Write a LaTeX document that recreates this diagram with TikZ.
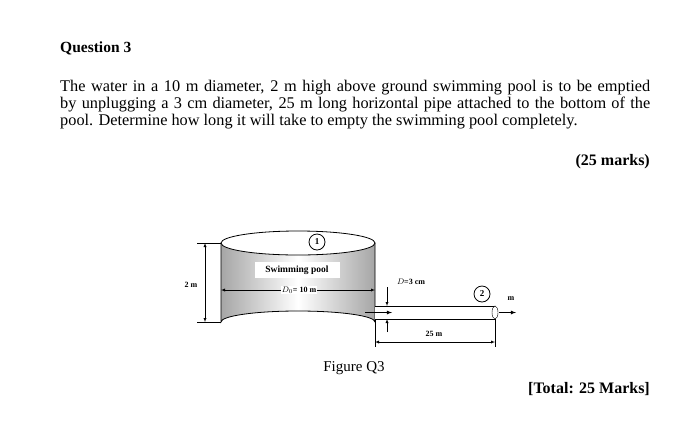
\documentclass[tikz,border=0pt]{standalone}
\usepackage{fontspec}
\setmainfont{Liberation Serif}
\begin{document}
\begin{tikzpicture}[x=1pt,y=-1pt,
  dim/.style={-latex,thin},
  lbl/.style={font=\fontsize{8}{9}\selectfont\bfseries,inner sep=1pt},
  num/.style={circle,draw,thick,minimum size=16pt,inner sep=0pt,font=\fontsize{9}{10}\selectfont\bfseries}]
\useasboundingbox (0,0) rectangle (700,429);
\node[anchor=base west,font=\fontsize{15.5}{17}\selectfont\bfseries,inner sep=0pt] (q) at (60,52) {Question 3};
\node[anchor=north west,text width=590pt,align=justify,inner sep=0pt,font=\fontsize{16.3}{17}\selectfont] (p) at (60,80)
{The water in a 10 m diameter, 2 m high above ground swimming pool is to be emptied by unplugging a 3 cm diameter, 25 m long horizontal pipe attached to the bottom of the\linebreak pool. Determine how long it will take to empty the swimming pool completely.};
\node[anchor=base east,font=\fontsize{16}{17}\selectfont\bfseries,inner sep=0pt] (m) at (650,165) {(25 marks)};
% cylinder
\shade[left color=gray!70,right color=gray!70,middle color=white,draw=black,thick]
  (221,243) -- (221,322) arc[start angle=180,end angle=360,x radius=77,y radius=11] -- (375,243) -- cycle;
\draw[thick,fill=white] (298,243) ellipse[x radius=77,y radius=12];
% pipe
\draw[fill=white,thick] (375,306) -- (495,306) -- (495,319) -- (375,319);
\draw[thin,fill=white] (495,312.5) ellipse[x radius=3,y radius=6.5];
\node[fill=white,font=\fontsize{9.5}{10}\selectfont\bfseries,minimum width=85pt,minimum height=16pt] (sp) at (297,270) {Swimming pool};
\node[lbl,fill=white,inner sep=1pt] (d0) at (299,290) {$D_0$= 10 m};
\draw[dim] (d0.west) -- (221,290);
\draw[dim] (d0.east) -- (375,290);
\node[num] (c1) at (317,242) {1};
\node[num] (c2) at (482,294) {2};
% 2 m
\coordinate (t1) at (197,243); \coordinate (t2) at (221,243);
\coordinate (b1) at (197,322); \coordinate (b2) at (221,322);
\draw[thin] (t1) -- (t2) (b1) -- (b2);
\node[lbl] (h) at (191,285) {2 m};
\draw[dim,latex-latex] (205,243) -- (205,322);
% D = 3 cm
\node[lbl] (d) at (411,282) {$D$=3 cm};
\draw[dim] (387,287) -- (387,306);
\draw[dim] (387,332) -- (387,319);
\draw[-latex,thick] (365,312.5) -- (392,312.5);
\draw[-latex,thick] (499,312.5) -- (516,312.5);
\node[lbl] (mm) at (511,299) {m};
% 25 m
\draw[thin] (375,319) -- (375,347) (495,319) -- (495,347);
\draw[latex-latex,thin] (375,342) -- (495,342);
\node[lbl] (l) at (434,334) {25 m};
\node[font=\fontsize{15}{16}\selectfont,anchor=base] (f) at (354,371) {Figure Q3};
\node[anchor=base east,font=\fontsize{16}{17}\selectfont\bfseries,inner sep=0pt] (t) at (650,393) {[Total: 25 Marks]};
\end{tikzpicture}
\end{document}
